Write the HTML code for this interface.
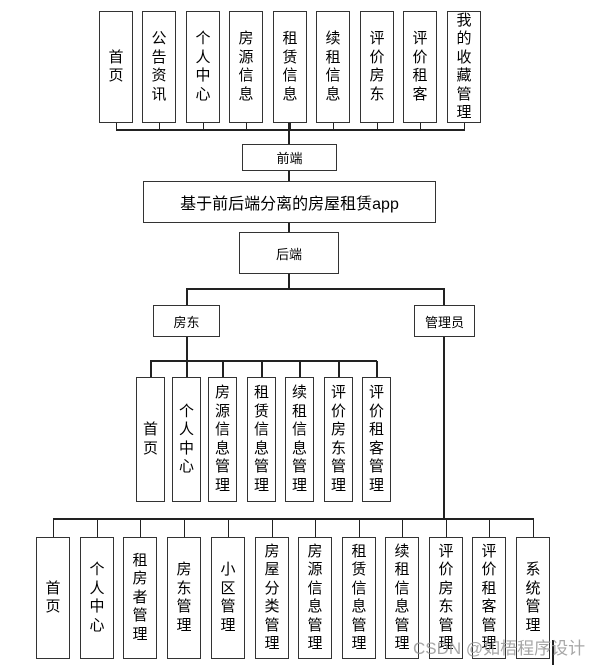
<!DOCTYPE html>
<html><head><meta charset="utf-8"><style>
body{margin:0;width:615px;height:665px;background:#fff;position:relative;overflow:hidden;font-family:"Liberation Sans","Noto Sans CJK SC",sans-serif;color:#000}
.b{position:absolute;border:1.5px solid #333;box-sizing:border-box;display:flex;align-items:center;justify-content:center;background:#fff}
.v span{display:block;width:15px;font-size:15px;line-height:18.5px;text-align:center;word-break:break-all}
.h{font-size:13px}
.l{position:absolute;background:#222}
</style></head><body>
<div class="l" style="left:116px;top:129px;width:349px;height:2px"></div>
<div class="l" style="left:288px;top:122px;width:2px;height:22px"></div>
<div class="l" style="left:288px;top:170px;width:1.5px;height:11px"></div>
<div class="l" style="left:288px;top:222px;width:1.5px;height:10px"></div>
<div class="l" style="left:288px;top:273px;width:1.5px;height:16px"></div>
<div class="l" style="left:186px;top:288px;width:259px;height:1.5px"></div>
<div class="l" style="left:186px;top:288px;width:1.5px;height:17px"></div>
<div class="l" style="left:443px;top:288px;width:1.5px;height:17px"></div>
<div class="l" style="left:186px;top:336px;width:2px;height:26px"></div>
<div class="l" style="left:150px;top:360px;width:227px;height:2px"></div>
<div class="l" style="left:443px;top:336px;width:2px;height:183px"></div>
<div class="l" style="left:53px;top:518px;width:481px;height:2px"></div>
<div class="l" style="left:552px;top:640px;width:2px;height:25px"></div>
<div class="b h" style="left:242px;top:144px;width:95px;height:27px">前端</div>
<div class="b" style="left:143px;top:181px;width:293px;height:42px;font-size:16px">基于前后端分离的房屋租赁app</div>
<div class="b h" style="left:239px;top:232px;width:100px;height:42px">后端</div>
<div class="b h" style="left:153px;top:305px;width:67px;height:32px">房东</div>
<div class="b h" style="left:414px;top:305px;width:61px;height:32px">管理员</div>
<script>
function add(xs,top,h,w,labels,drop,below){
 labels.forEach((s,i)=>{
  var x=xs[i];
  if(drop){var l=document.createElement('div');l.className='l';
   var t=below?(top+h):(top-drop);
   l.style.cssText='left:'+(x+w/2-0.5)+'px;top:'+t+'px;width:1.5px;height:'+drop+'px';document.body.appendChild(l);}
  var d=document.createElement('div');d.className='b v';
  d.style.cssText='left:'+x+'px;top:'+top+'px;width:'+w+'px;height:'+h+'px';
  d.innerHTML='<span>'+s+'</span>';document.body.appendChild(d);
 });
}
add([99,142,186,229,273,316,360,403,447],11,112,34,['首页','公告资讯','个人中心','房源信息','租赁信息','续租信息','评价房东','评价租客','我的收藏管理'],8,true);
add([136,172,208,247,285,324,362],377,125,29,['首页','个人中心','房源信息管理','租赁信息管理','续租信息管理','评价房东管理','评价租客管理'],16,false);
add([36,80,123,167,211,255,298,342,385,429,472,516],537,122,34,['首页','个人中心','租房者管理','房东管理','小区管理','房屋分类管理','房源信息管理','租赁信息管理','续租信息管理','评价房东管理','评价租客管理','系统管理'],18,false);
</script>
<div style="position:absolute;left:413px;top:634px;font-size:17px;color:rgba(150,150,150,0.85);z-index:10">CSDN @如梧程序设计</div>
</body></html>
